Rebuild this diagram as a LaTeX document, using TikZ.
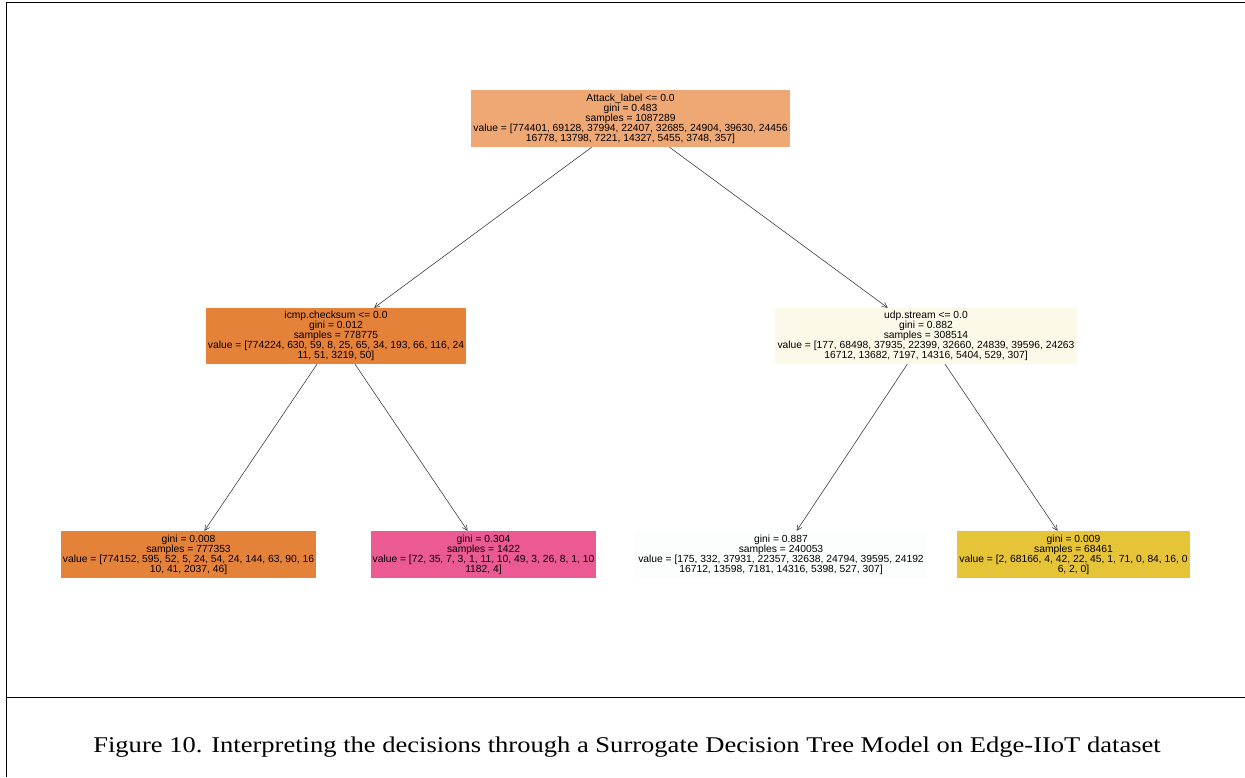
\documentclass[tikz,border=0pt]{standalone}
\usepackage{fontspec}
\setmainfont{Liberation Serif}
\setsansfont{Liberation Sans}
\usepackage{tikz}
\usetikzlibrary{arrows.meta,positioning}

\definecolor{rootfill}{RGB}{239,167,116}
\definecolor{orangefill}{RGB}{229,130,58}
\definecolor{creamfill}{RGB}{253,249,233}
\definecolor{pinkfill}{RGB}{235,90,146}
\definecolor{whitefill}{RGB}{251,254,253}
\definecolor{yellowfill}{RGB}{229,196,56}

\begin{document}
\begin{tikzpicture}[x=1pt,y=-1pt]
	\tikzstyle{tree}=[rectangle, inner sep=0pt, align=center, font=\sffamily\fontsize{10.3}{10}\selectfont]
	\tikzstyle{split}=[tree, minimum height=56pt]
	\tikzstyle{leaf}=[tree, minimum height=47pt]
	\tikzstyle{connect}=[-{Straight Barb[length=5pt,width=5pt]}, draw=black!80, line width=0.55pt]
	\tikzstyle{frame}=[line width=1pt]
	\useasboundingbox (0,0) rectangle (1245,777);
	\draw[frame] (6.5,777) -- (6.5,2.5) -- (1245,2.5);
	\draw[frame] (6.5,697) -- (1245,697);
	\node[split, fill=rootfill, minimum width=319pt, minimum height=57pt] (root) at (630.5,118.5) {Attack\_label <= 0.0\\gini = 0.483\\samples = 1087289\\value = [774401, 69128, 37994, 22407, 32685, 24904, 39630, 24456\\16778, 13798, 7221, 14327, 5455, 3748, 357]};
	\node[split, fill=orangefill, minimum width=260pt] (icmp) at (336,336) {icmp.checksum <= 0.0\\gini = 0.012\\samples = 778775\\value = [774224, 630, 59, 8, 25, 65, 34, 193, 66, 116, 24\\11, 51, 3219, 50]};
	\node[split, fill=creamfill, minimum width=302pt] (udp) at (926,336) {udp.stream <= 0.0\\gini = 0.882\\samples = 308514\\value = [177, 68498, 37935, 22399, 32660, 24839, 39596, 24263\\16712, 13682, 7197, 14316, 5404, 529, 307]};
	\node[leaf, fill=orangefill, minimum width=255pt] (leafa) at (188.5,554.5) {gini = 0.008\\samples = 777353\\value = [774152, 595, 52, 5, 24, 54, 24, 144, 63, 90, 16\\10, 41, 2037, 46]};
	\node[leaf, fill=pinkfill, minimum width=225pt] (leafb) at (483.5,554.5) {gini = 0.304\\samples = 1422\\value = [72, 35, 7, 3, 1, 11, 10, 49, 3, 26, 8, 1, 10\\1182, 4]};
	\node[leaf, fill=whitefill, minimum width=292pt] (leafc) at (781,554.5) {gini = 0.887\\samples = 240053\\value = [175, 332, 37931, 22357, 32638, 24794, 39595, 24192\\16712, 13598, 7181, 14316, 5398, 527, 307]};
	\node[leaf, fill=yellowfill, minimum width=233pt] (leafd) at (1073.5,554.5) {gini = 0.009\\samples = 68461\\value = [2, 68166, 4, 42, 22, 45, 1, 71, 0, 84, 16, 0\\6, 2, 0]};
	\path (root) edge [connect] (icmp)
	(root) edge [connect] (udp)
	(icmp) edge [connect] (leafa)
	(icmp) edge [connect] (leafb)
	(udp) edge [connect] (leafc)
	(udp) edge [connect] (leafd);
	\node[anchor=base, font=\fontsize{22.5}{24}\selectfont] (caption) at (627,752) {\scalebox{1.18}[1]{Figure 10. Interpreting the decisions through a Surrogate Decision Tree Model on Edge-IIoT dataset}};
\end{tikzpicture}
\end{document}
